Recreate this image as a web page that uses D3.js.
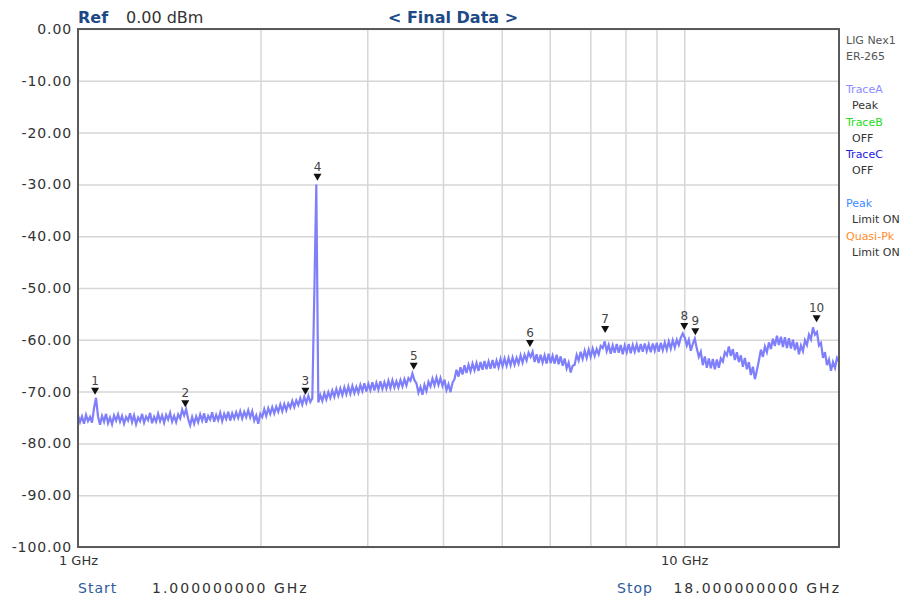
<!DOCTYPE html>
<html>
<head>
<meta charset="utf-8">
<script src="https://cdn.jsdelivr.net/npm/d3@7"></script>
<style>
  html, body { margin: 0; padding: 0; background: #fff; }
  svg { display: block; font-family: "DejaVu Sans", Verdana, sans-serif; }
</style>
</head>
<body>
<div id="main-container"></div>
<script>
// Sweep definition (GHz) and trace levels (dBm), one level per sweep point
const START_GHZ = 1;
const STOP_GHZ = 18;
const TRACE_DBM = [
  -74.6,-75.9,-74.8,-76.2,-74.5,-75.7,-74.9,-76.0,-73.2,-71.2,-74.8,-76.4,-74.7,-75.8,-74.3,-76.1,-75.0,-76.3,-74.6,-75.6,
  -74.4,-75.8,-74.7,-76.2,-74.9,-75.6,-74.2,-75.9,-74.6,-76.3,-75.0,-75.7,-74.3,-76.0,-74.8,-75.5,-74.1,-76.1,-74.9,-75.8,
  -74.3,-75.7,-74.6,-76.0,-74.5,-75.4,-74.1,-75.8,-74.7,-75.9,-74.4,-75.2,-73.5,-74.6,-73.4,-75.3,-76.5,-74.9,-76.2,-74.8,
  -75.9,-74.4,-75.6,-74.2,-76.0,-74.7,-75.4,-74.0,-75.8,-74.5,-75.5,-74.1,-75.7,-74.3,-75.3,-73.9,-75.6,-74.2,-75.2,-74.0,
  -75.1,-73.8,-75.2,-73.9,-74.9,-73.6,-75.0,-73.8,-75.6,-74.6,-76.2,-74.3,-74.9,-73.4,-74.7,-73.2,-74.3,-73.0,-74.2,-72.9,
  -73.9,-72.5,-73.8,-72.4,-73.6,-72.3,-73.1,-71.8,-73.0,-71.7,-72.6,-71.3,-72.5,-71.0,-72.2,-70.8,-72.0,-71.3,-51.0,-30.0,
  -72.1,-70.7,-71.8,-70.3,-71.5,-70.1,-71.2,-69.8,-71.0,-69.5,-70.8,-69.4,-70.7,-69.2,-70.5,-69.0,-70.4,-68.9,-70.3,-69.1,
  -70.2,-68.7,-69.9,-68.4,-70.0,-68.5,-69.7,-68.2,-69.8,-68.3,-69.6,-68.0,-69.5,-68.2,-69.4,-67.9,-69.3,-67.8,-69.2,-68.0,
  -69.2,-67.8,-69.0,-67.6,-68.8,-67.4,-67.9,-66.5,-67.8,-68.4,-70.2,-69.1,-70.6,-68.7,-69.9,-68.1,-69.0,-67.5,-68.8,-67.3,
  -68.7,-67.4,-68.9,-67.7,-69.7,-68.6,-70.1,-68.3,-67.6,-65.8,-67.1,-65.3,-66.7,-64.9,-66.4,-64.8,-66.1,-64.6,-65.9,-64.5,
  -66.0,-64.3,-65.8,-64.1,-65.7,-64.2,-65.6,-63.9,-65.5,-64.0,-65.3,-63.7,-65.1,-63.6,-65.0,-63.5,-64.9,-63.4,-64.8,-63.5,
  -64.6,-63.0,-64.4,-62.9,-64.0,-62.5,-63.3,-62.3,-64.3,-62.8,-64.5,-62.9,-64.4,-63.0,-64.6,-62.7,-64.5,-63.1,-64.6,-62.9,
  -64.7,-63.2,-65.0,-63.6,-65.5,-64.4,-66.3,-65.0,-64.8,-62.9,-64.0,-62.3,-63.7,-62.1,-63.5,-61.9,-63.3,-61.7,-63.1,-61.8,
  -62.8,-61.2,-61.6,-60.3,-62.2,-61.0,-62.7,-61.1,-62.5,-60.8,-62.5,-61.0,-62.8,-61.1,-62.4,-60.8,-62.6,-61.0,-62.3,-60.9,
  -62.4,-60.8,-62.3,-60.7,-62.2,-60.9,-62.4,-60.7,-62.1,-60.6,-62.3,-60.6,-62.0,-60.5,-61.9,-60.3,-61.7,-60.1,-61.5,-60.0,
  -61.0,-59.6,-58.8,-59.6,-61.1,-60.0,-62.1,-60.8,-59.8,-61.7,-63.3,-62.3,-64.9,-63.2,-65.4,-63.6,-65.5,-63.7,-65.7,-63.8,
  -65.4,-63.6,-64.2,-62.4,-63.0,-61.3,-63.1,-61.8,-63.9,-62.4,-64.3,-63.0,-65.2,-63.5,-65.7,-64.3,-66.8,-65.2,-67.6,-65.9,
  -64.0,-61.9,-63.3,-61.3,-62.4,-60.5,-61.8,-59.8,-61.2,-59.2,-61.0,-59.4,-61.4,-59.5,-61.6,-59.7,-61.7,-60.0,-62.0,-60.5,
  -62.8,-61.1,-62.2,-60.1,-61.0,-59.0,-59.9,-57.6,-59.0,-58.5,-61.1,-60.6,-63.5,-62.4,-64.9,-63.8,-66.0,-64.3,-65.4,-63.5,
  -64.2
];

// Markers
const MARKER_IDS = ['1', '2', '3', '4', '5', '6', '7', '8', '9', '10'];
const MARKER_GHZ = [1.067, 1.503, 2.372, 2.483, 3.579, 5.566, 7.405, 10.0, 10.43, 16.53];
const MARKER_DBM = [-70.6, -73.0, -70.6, -29.3, -65.8, -61.4, -58.7, -58.1, -59.1, -56.6];

// Axes ticks
const Y_TICKS = [0, -10, -20, -30, -40, -50, -60, -70, -80, -90, -100];
const X_GRID = [2, 3, 4, 5, 6, 7, 8, 9, 10];
const X_LABELS = [1, 10];

// Header / footer / side panel texts
const REF_LABEL = 'Ref';
const REF_VALUE = '0.00 dBm';
const TITLE = '< Final Data >';
const START_TEXT = ['Start', '1.000000000 GHz'];
const STOP_TEXT = ['Stop', '18.000000000 GHz'];
const SIDE_ITEMS = [
  { text: 'LIG Nex1', color: '#555' },
  { text: 'ER-265', color: '#555' },
  { text: '', color: '#555' },
  { text: 'TraceA', color: '#8c8cff' },
  { text: ' Peak', color: '#333' },
  { text: 'TraceB', color: '#22dd22' },
  { text: ' OFF', color: '#333' },
  { text: 'TraceC', color: '#2222dd' },
  { text: ' OFF', color: '#333' },
  { text: '', color: '#555' },
  { text: 'Peak', color: '#3b8cff' },
  { text: ' Limit ON', color: '#333' },
  { text: 'Quasi-Pk', color: '#ff8c2a' },
  { text: ' Limit ON', color: '#333' }
];

const WIDTH = 913, HEIGHT = 599;
const PLOT = { left: 78, right: 839, top: 29, bottom: 547 };
const BLUE_TEXT = '#1d4a86';
const TRACE_COLOR = '#7f7ffb';

const SVG = d3.select('#main-container').append('svg')
  .attr('width', WIDTH)
  .attr('height', HEIGHT);

// Scales
const X_SCALE = d3.scaleLog().domain([START_GHZ, STOP_GHZ]).range([PLOT.left, PLOT.right]);
const Y_SCALE = d3.scaleLinear().domain([-100, 0]).range([PLOT.bottom, PLOT.top]);

// Grid lines
const gridY = SVG.append('g')
  .attr('transform', `translate(${PLOT.left},0)`)
  .call(d3.axisLeft(Y_SCALE).tickValues(Y_TICKS).tickSize(-(PLOT.right - PLOT.left)).tickFormat(''));
gridY.select('.domain').remove();
gridY.selectAll('line').attr('stroke', '#d6d6d6').attr('stroke-width', 1.5);

const gridX = SVG.append('g')
  .attr('transform', `translate(0,${PLOT.bottom})`)
  .call(d3.axisBottom(X_SCALE).tickValues(X_GRID).tickSize(-(PLOT.bottom - PLOT.top)).tickFormat(''));
gridX.select('.domain').remove();
gridX.selectAll('line').attr('stroke', '#d6d6d6').attr('stroke-width', 1.5);

// Y labels
const yLabels = SVG.append('g')
  .attr('transform', `translate(${PLOT.left},0)`)
  .call(d3.axisLeft(Y_SCALE).tickValues(Y_TICKS).tickSize(0).tickPadding(6)
    .tickFormat(d => d.toFixed(2)));
yLabels.select('.domain').remove();
yLabels.selectAll('text')
  .attr('fill', '#333')
  .style('font-size', '14px')
  .style('letter-spacing', '0.9px')
  .style('font-family', '"DejaVu Sans", Verdana, sans-serif');

// X labels
const xLabels = SVG.append('g')
  .attr('transform', `translate(0,${PLOT.bottom})`)
  .call(d3.axisBottom(X_SCALE).tickValues(X_LABELS).tickSize(0).tickPadding(9)
    .tickFormat(d => `${d} GHz`));
xLabels.select('.domain').remove();
xLabels.selectAll('text')
  .attr('fill', '#333')
  .style('font-size', '13px')
  .style('font-family', '"DejaVu Sans", Verdana, sans-serif');

// Trace
SVG.append('clipPath').attr('id', 'plot-clip')
  .append('rect')
  .attr('x', PLOT.left).attr('y', PLOT.top)
  .attr('width', PLOT.right - PLOT.left).attr('height', PLOT.bottom - PLOT.top);

const N = TRACE_DBM.length;
const sweep = TRACE_DBM.map((v, i) => ({
  f: START_GHZ * Math.pow(STOP_GHZ / START_GHZ, i / (N - 1)),
  v: v
}));
const line = d3.line().x(d => X_SCALE(d.f)).y(d => Y_SCALE(d.v));
SVG.append('path')
  .datum(sweep)
  .attr('clip-path', 'url(#plot-clip)')
  .attr('fill', 'none')
  .attr('stroke', TRACE_COLOR)
  .attr('stroke-width', 2.2)
  .attr('stroke-linejoin', 'miter')
  .attr('d', line);

// Frame
SVG.append('rect')
  .attr('x', PLOT.left).attr('y', PLOT.top)
  .attr('width', PLOT.right - PLOT.left).attr('height', PLOT.bottom - PLOT.top)
  .attr('fill', 'none')
  .attr('stroke', '#5a5a5a')
  .attr('stroke-width', 2);

// Markers
const markers = SVG.append('g').selectAll('g')
  .data(MARKER_IDS.map((id, i) => ({ id, f: MARKER_GHZ[i], v: MARKER_DBM[i] })))
  .enter().append('g')
  .attr('transform', d => `translate(${X_SCALE(d.f)},${Y_SCALE(d.v)})`);
markers.append('path')
  .attr('d', 'M-4,-7 L4,-7 L0,0 Z')
  .attr('fill', '#111');
markers.append('text')
  .attr('y', -10)
  .attr('text-anchor', 'middle')
  .attr('fill', '#444')
  .style('font-size', '12px')
  .text(d => d.id);

// Header
SVG.append('text')
  .attr('x', PLOT.left).attr('y', 23)
  .attr('fill', BLUE_TEXT)
  .style('font-size', '16px').style('font-weight', 'bold')
  .text(REF_LABEL);
SVG.append('text')
  .attr('x', 126).attr('y', 23)
  .attr('fill', '#333')
  .style('font-size', '16px')
  .text(REF_VALUE);
SVG.append('text')
  .attr('x', 453).attr('y', 23)
  .attr('text-anchor', 'middle')
  .attr('fill', BLUE_TEXT)
  .style('font-size', '16px').style('font-weight', 'bold')
  .text(TITLE);

// Footer
SVG.append('text')
  .attr('x', PLOT.left).attr('y', 593)
  .attr('fill', '#2d5c9c')
  .style('font-size', '14px').style('letter-spacing', '1px')
  .text(START_TEXT[0]);
SVG.append('text')
  .attr('x', 152).attr('y', 593)
  .attr('fill', '#333')
  .style('font-size', '14px').style('letter-spacing', '2px')
  .text(START_TEXT[1]);
SVG.append('text')
  .attr('x', 617).attr('y', 593)
  .attr('fill', '#2d5c9c')
  .style('font-size', '14px').style('letter-spacing', '1px')
  .text(STOP_TEXT[0]);
SVG.append('text')
  .attr('x', PLOT.right + 2).attr('y', 593)
  .attr('text-anchor', 'end')
  .attr('fill', '#333')
  .style('font-size', '14px').style('letter-spacing', '2px')
  .text(STOP_TEXT[1]);

// Side panel
SVG.append('g').selectAll('text')
  .data(SIDE_ITEMS)
  .enter().append('text')
  .attr('x', d => d.text.startsWith(' ') ? 852 : 846)
  .attr('y', (d, i) => 44 + i * 16.3)
  .attr('fill', d => d.color)
  .style('font-size', '11px')
  .text(d => d.text.trim());
</script>
</body>
</html>
